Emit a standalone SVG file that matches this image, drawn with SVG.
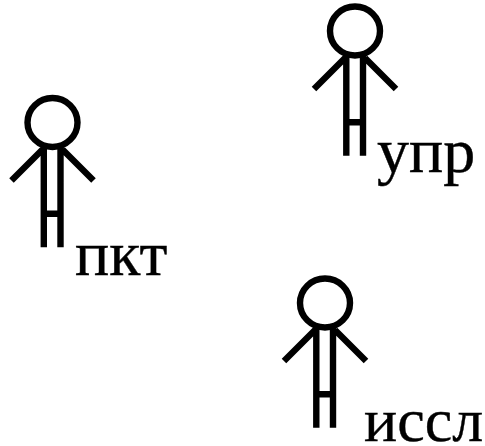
<svg xmlns="http://www.w3.org/2000/svg" width="485" height="446" viewBox="0 0 485 446">
<style>
.a{fill:none;stroke:#000;stroke-width:6.4}
.t{font-family:"Liberation Serif","Times New Roman",serif;font-size:64px;fill:#000;stroke:#000;stroke-width:.4}
</style>
<defs>
<g id="actor" class="a">
<ellipse cx="355" cy="31" rx="25" ry="24.5"/>
<path d="M346.3 54V155.7M363 54V155.7M346.3 122.3H363M345 58L314 89M365 58L396 89"/>
</g>
</defs>
<rect width="485" height="446" fill="#fff"/>
<g id="upr"><use href="#actor"/><text class="t" x="377" y="172">упр</text></g>
<g id="pkt"><use href="#actor" transform="translate(-302.5 91.5)"/><text class="t" x="75" y="275">пкт</text></g>
<g id="issl"><use href="#actor" transform="translate(-30 272)"/><text class="t" x="364" y="441" style="font-size:62px">иссл</text></g>
<g id="connectors"/>
</svg>
